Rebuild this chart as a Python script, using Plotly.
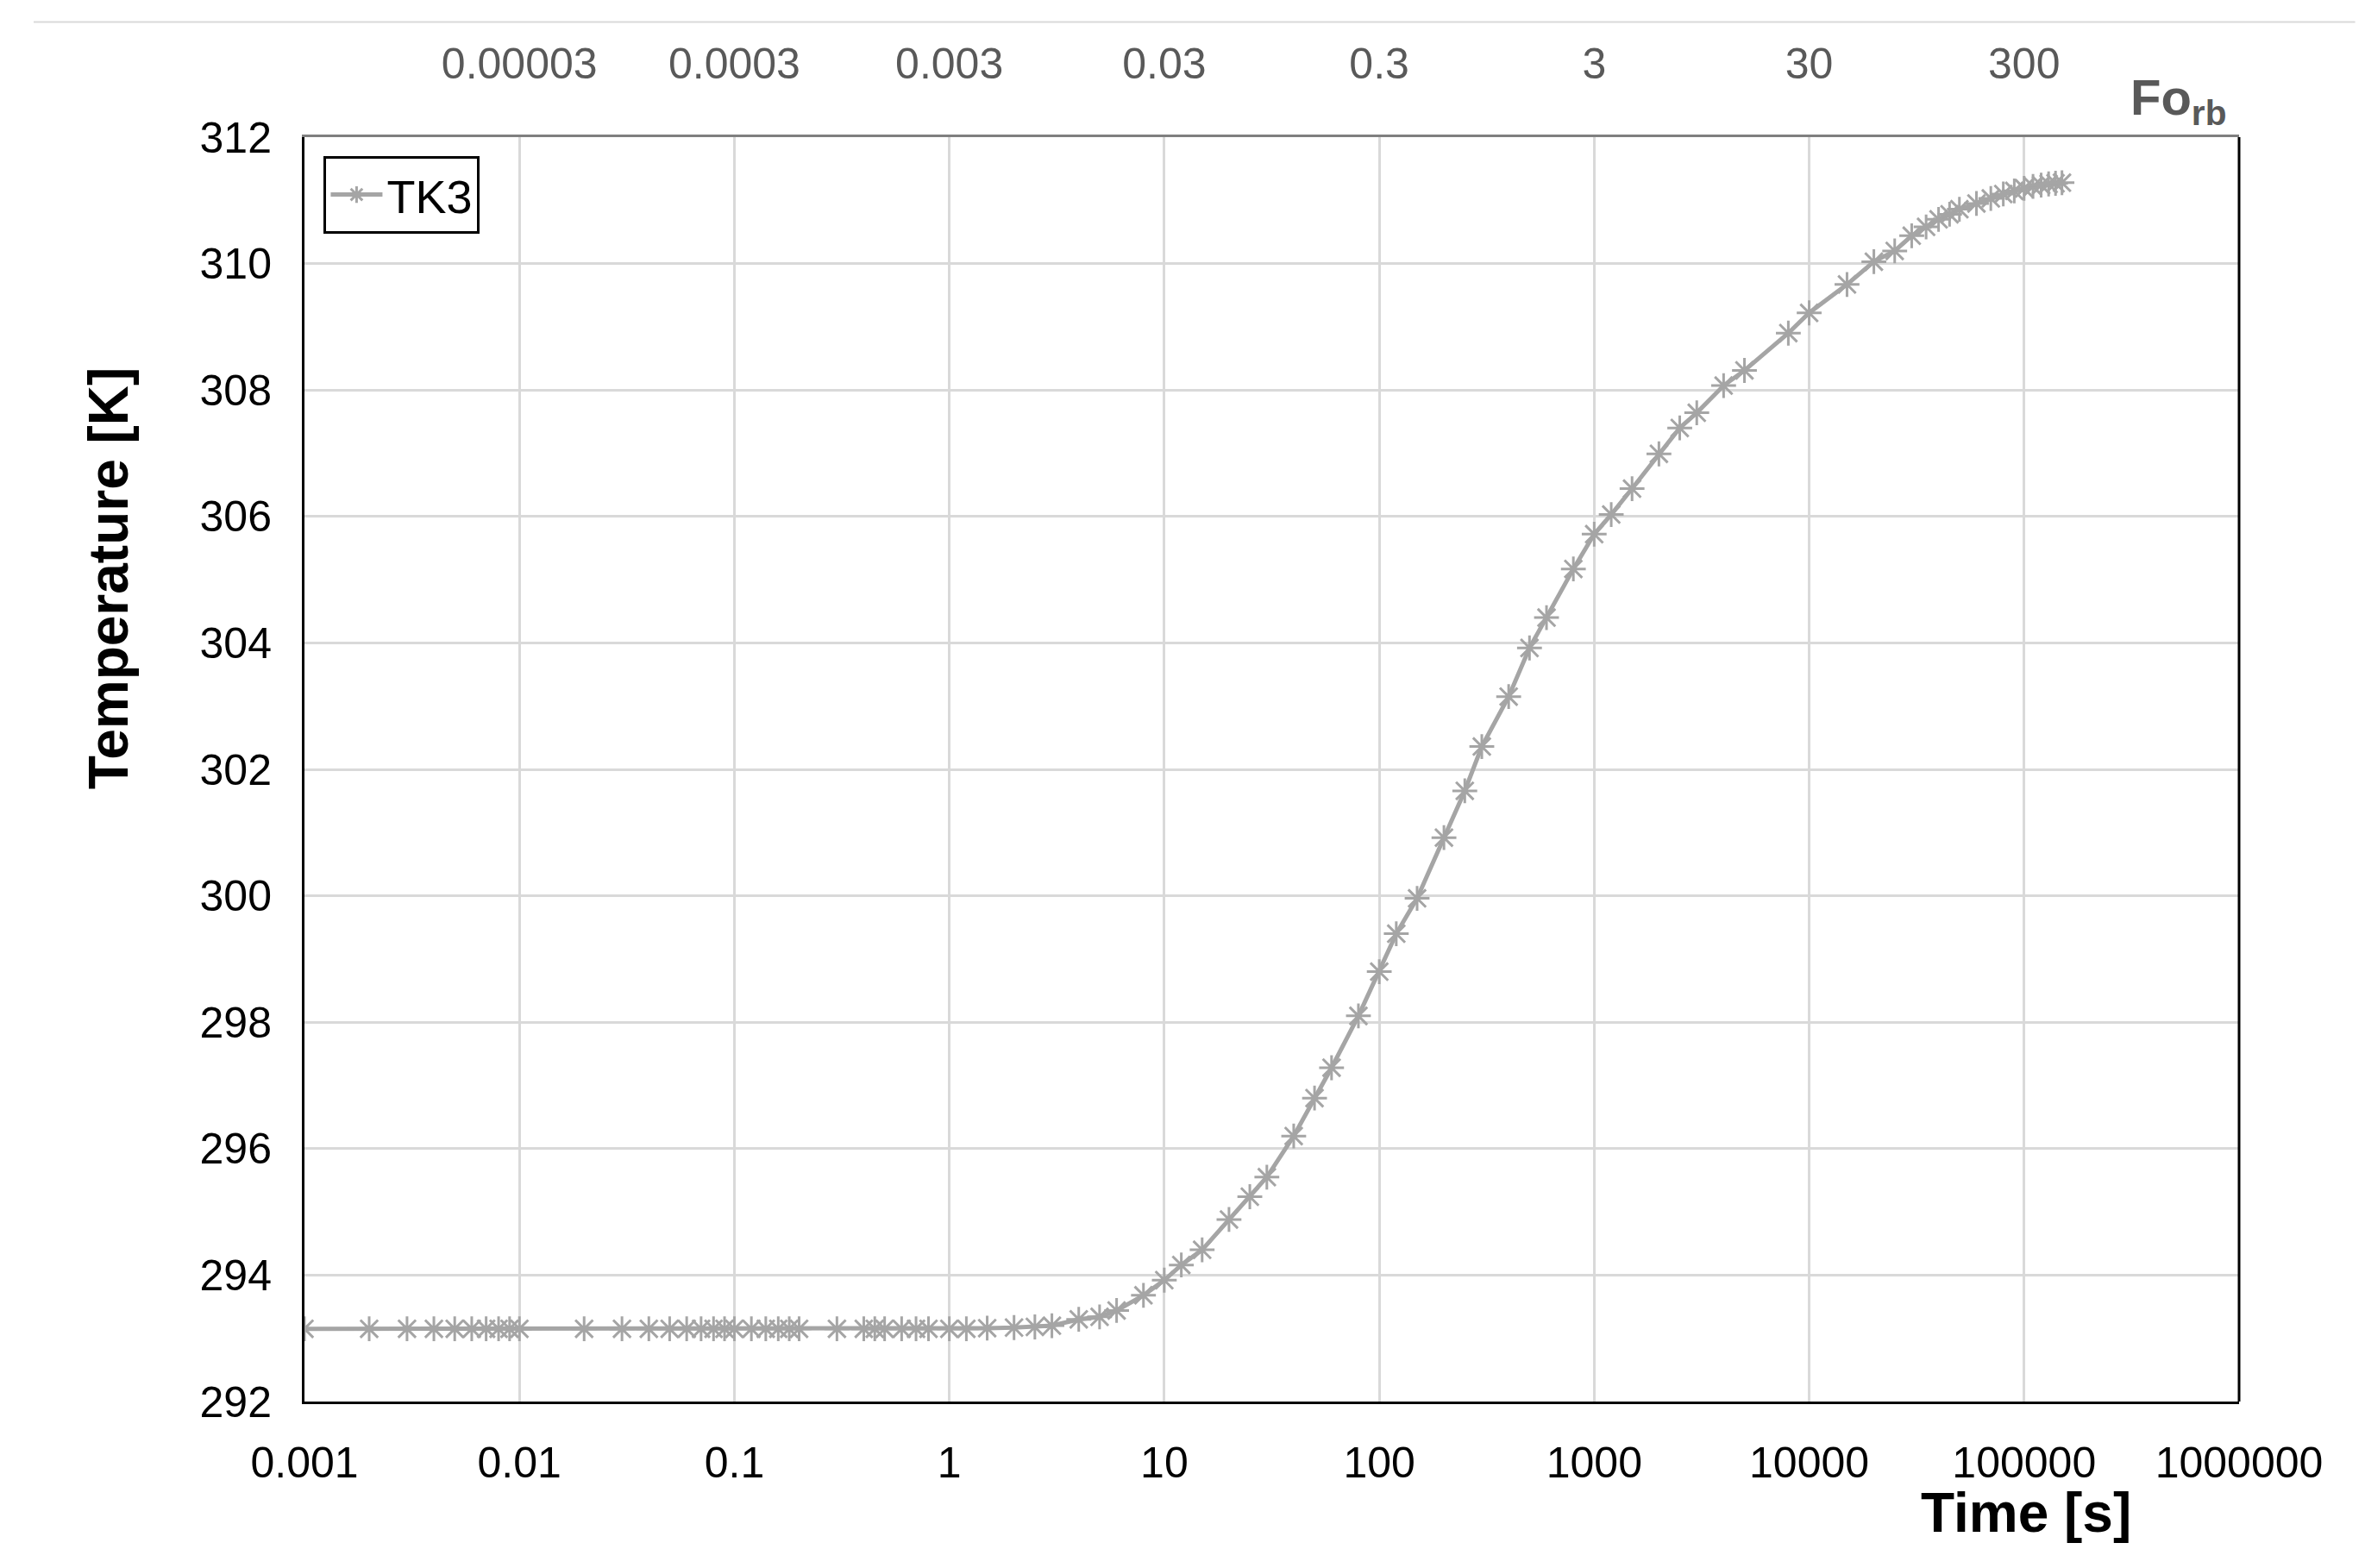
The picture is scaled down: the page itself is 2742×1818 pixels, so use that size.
import plotly.graph_objects as go

# TK3 measured temperature vs time
time_s = [0.001, 0.002, 0.003, 0.004, 0.005, 0.006, 0.007, 0.008, 0.009, 0.01,
          0.02, 0.03, 0.04, 0.05, 0.06, 0.07, 0.08, 0.09, 0.1,
          0.12, 0.14, 0.16, 0.18, 0.2, 0.3, 0.4, 0.45, 0.5, 0.6, 0.7, 0.8, 1.0,
          1.2, 1.5, 2, 2.5, 3, 4, 5, 6, 8, 10, 12, 15, 20, 25, 30, 40, 50, 60, 80,
          100, 120, 150, 200, 250, 300, 400, 500, 600, 800, 1000, 1200, 1500,
          2000, 2500, 3000, 4000, 5000, 8000, 10000, 15000, 20000, 25000, 30000,
          35000, 40000, 45000, 50000, 60000, 70000, 80000, 90000, 100000, 110000,
          120000, 130000, 140000, 150000]
temp_k = [293.15] * 32 + [
          293.15, 293.16, 293.17, 293.18, 293.2, 293.3, 293.34, 293.44, 293.68,
          293.92, 294.16, 294.4, 294.88, 295.24, 295.55, 296.2, 296.8, 297.28, 298.1,
          298.8, 299.4, 299.96, 300.92, 301.66, 302.36, 303.15, 303.92, 304.4, 305.17,
          305.72, 306.03, 306.44, 306.99, 307.4, 307.64, 308.07, 308.31, 308.9,
          309.22, 309.67, 310.03, 310.2, 310.44, 310.58, 310.7, 310.78, 310.86, 310.95,
          311.03, 311.1, 311.15, 311.19, 311.22, 311.24, 311.26, 311.27, 311.28]

x_ticks = [0.001, 0.01, 0.1, 1, 10, 100, 1000, 10000, 100000, 1000000]
x_labels = ["0.001", "0.01", "0.1", "1", "10", "100", "1000", "10000", "100000", "1000000"]
fo_ticks = [0.00003, 0.0003, 0.003, 0.03, 0.3, 3, 30, 300]
fo_labels = ["0.00003", "0.0003", "0.003", "0.03", "0.3", "3", "30", "300"]
fo_per_second = 0.003

grey = "#A5A5A5"
font = "Liberation Sans Narrow, Liberation Sans, sans-serif"

fig = go.Figure()
fig.add_trace(go.Scatter(x=time_s, y=temp_k, mode="lines+markers", name="TK3",
                         line=dict(color=grey, width=5),
                         marker=dict(symbol="asterisk-open", size=24,
                                     line=dict(color=grey, width=3))))
# invisible trace to drive the Fourier number axis on top
fig.add_trace(go.Scatter(x=[t * fo_per_second for t in time_s], y=temp_k, xaxis="x2",
                         mode="lines", line=dict(width=0), showlegend=False,
                         hoverinfo="skip", opacity=0))

fig.update_layout(
    width=2742, height=1818,
    paper_bgcolor="white", plot_bgcolor="white",
    margin=dict(l=345, r=154, t=151, b=201),
    font=dict(family=font, size=50, color="black"),
    showlegend=True,
    legend=dict(x=0.01, y=0.985, xanchor="left", yanchor="top",
                bordercolor="black", borderwidth=3, bgcolor="white",
                font=dict(size=54), itemwidth=60),
    xaxis=dict(type="log", range=[-3, 6], tickvals=x_ticks, ticktext=x_labels,
               showgrid=True, gridcolor="#D9D9D9", gridwidth=3,
               showline=True, linecolor="black", linewidth=3, mirror=False,
               ticks="", ticklen=0, zeroline=False, ticklabelstandoff=25),
    xaxis2=dict(type="log", overlaying="x", side="top",
                range=[-3 + 0.47712 - 3, 6 + 0.47712 - 3],
                tickvals=fo_ticks, ticktext=fo_labels, showgrid=False,
                showline=True, linecolor="#7F7F7F", linewidth=3,
                ticklabelstandoff=45,
                tickfont=dict(color="#595959", size=50)),
    yaxis=dict(range=[292, 312], dtick=2, showgrid=True, gridcolor="#D9D9D9",
               gridwidth=3, showline=True, linecolor="black", linewidth=3,
               ticks="", zeroline=False, ticklabelstandoff=25),
)
# right border
fig.add_shape(type="line", xref="paper", yref="paper", x0=1, x1=1, y0=0, y1=1,
              line=dict(color="black", width=3))
fig.add_shape(type="line", xref="paper", yref="paper", x0=-0.14, x1=1.06, y0=1.091, y1=1.091,
              line=dict(color="#D9D9D9", width=2))

fig.add_annotation(text="<b>Time [s]</b>", xref="paper", yref="paper", x=0.945, y=-0.088,
                   showarrow=False, font=dict(size=64, color="black"), yanchor="middle")
fig.add_annotation(text="<b>Temperature [K]</b>", xref="paper", yref="paper", x=-0.118, y=0.82,
                   showarrow=False, textangle=-90, font=dict(size=64, color="black"))
fig.add_annotation(text="<b>Fo<sub>rb</sub></b>", xref="paper", yref="paper", x=0.994, y=1.055,
                   showarrow=False, font=dict(size=58, color="#595959"))

fig.write_html("out.html")
